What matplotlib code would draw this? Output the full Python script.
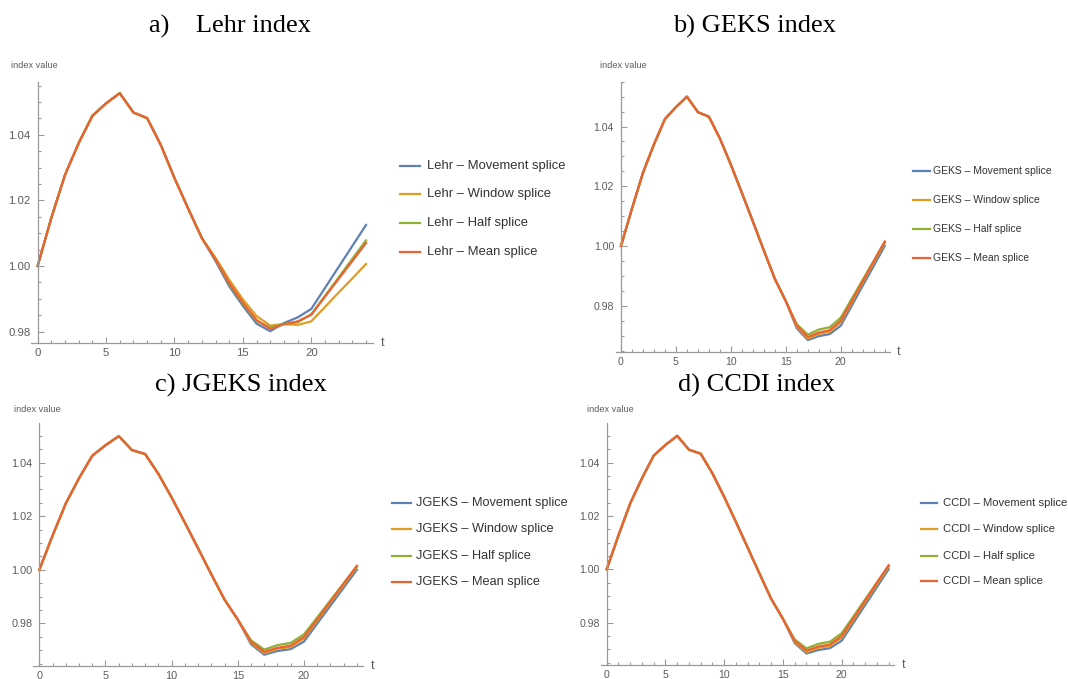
"""Four panels of spliced index series (Lehr, GEKS, JGEKS, CCDI)."""

import matplotlib

matplotlib.use("Agg")

import matplotlib.pyplot as plt
from matplotlib.lines import Line2D
from matplotlib.ticker import MultipleLocator

W, H = 1068, 679

T = list(range(25))
SPLICES = ["Movement splice", "Window splice", "Half splice", "Mean splice"]
COLORS = ["#5e81b5", "#e19c24", "#8fb032", "#eb6235"]

# common start of every Lehr series (t = 0..12)
LEHR_HEAD = [1.000, 1.0147, 1.0278, 1.0375, 1.0458, 1.0496, 1.0527, 1.0468,
             1.0451, 1.0369, 1.0268, 1.0175, 1.0085]
LEHR_MOVEMENT = LEHR_HEAD + [1.0015, 0.9938, 0.9878, 0.9824, 0.9801, 0.9826,
                             0.9843, 0.9869, 0.9933, 0.9997, 1.0061, 1.0125]
LEHR_WINDOW = LEHR_HEAD + [1.0025, 0.9958, 0.9898, 0.9847, 0.9818, 0.9823,
                           0.9820, 0.9831, 0.9875, 0.9919, 0.9962, 1.0006]
LEHR_HALF = LEHR_HEAD + [1.0020, 0.9945, 0.9885, 0.9832, 0.9812, 0.9824,
                         0.9828, 0.9853, 0.9909, 0.9965, 1.0022, 1.0078]
LEHR_MEAN = LEHR_HEAD + [1.0020, 0.9948, 0.9888, 0.9835, 0.9808, 0.9822,
                         0.9831, 0.9851, 0.9906, 0.9961, 1.0015, 1.0070]

GEKS_HEAD = [1.000, 1.0125, 1.0245, 1.0340, 1.0425, 1.0465, 1.0500, 1.0448,
             1.0433, 1.0360, 1.0272, 1.0178, 1.0082, 0.9985, 0.9890, 0.9815]
GEKS_MOVEMENT = GEKS_HEAD + [0.9724, 0.9685, 0.9698, 0.9705, 0.9733,
                             0.9800, 0.9867, 0.9933, 1.0000]
GEKS_WINDOW = GEKS_HEAD + [0.9729, 0.9690, 0.9706, 0.9713, 0.9745,
                           0.9811, 0.9878, 0.9944, 1.0010]
GEKS_HALF = GEKS_HEAD + [0.9738, 0.9703, 0.9720, 0.9728, 0.9760,
                         0.9823, 0.9887, 0.9950, 1.0013]
GEKS_MEAN = GEKS_HEAD + [0.9733, 0.9695, 0.9710, 0.9718, 0.9750,
                         0.9816, 0.9882, 0.9949, 1.0015]

JGEKS_HEAD = [1.000, 1.0128, 1.0248, 1.0342, 1.0426, 1.0465, 1.0499, 1.0447,
              1.0432, 1.0358, 1.0270, 1.0176, 1.0080, 0.9983, 0.9889, 0.9814]
JGEKS_MOVEMENT = JGEKS_HEAD + [0.9722, 0.9683, 0.9697, 0.9704, 0.9732,
                               0.9799, 0.9866, 0.9933, 1.0000]
JGEKS_WINDOW = JGEKS_HEAD + [0.9728, 0.9689, 0.9705, 0.9712, 0.9744,
                             0.9810, 0.9877, 0.9943, 1.0010]
JGEKS_HALF = JGEKS_HEAD + [0.9737, 0.9702, 0.9719, 0.9727, 0.9759,
                           0.9822, 0.9886, 0.9950, 1.0013]
JGEKS_MEAN = JGEKS_HEAD + [0.9732, 0.9694, 0.9709, 0.9717, 0.9749,
                           0.9815, 0.9881, 0.9948, 1.0015]

CCDI_HEAD = [1.000, 1.0127, 1.0247, 1.0341, 1.0426, 1.0466, 1.0500, 1.0448,
             1.0433, 1.0359, 1.0271, 1.0177, 1.0081, 0.9984, 0.9889, 0.9814]
CCDI_MOVEMENT = CCDI_HEAD + [0.9723, 0.9684, 0.9697, 0.9704, 0.9732,
                             0.9799, 0.9866, 0.9933, 1.0000]
CCDI_WINDOW = CCDI_HEAD + [0.9728, 0.9689, 0.9705, 0.9712, 0.9744,
                           0.9810, 0.9877, 0.9943, 1.0010]
CCDI_HALF = CCDI_HEAD + [0.9737, 0.9703, 0.9720, 0.9728, 0.9760,
                         0.9823, 0.9887, 0.9950, 1.0013]
CCDI_MEAN = CCDI_HEAD + [0.9732, 0.9695, 0.9710, 0.9718, 0.9750,
                         0.9816, 0.9882, 0.9949, 1.0015]

SANS = ["Liberation Sans", "DejaVu Sans"]
AXIS_GRAY = "#9a9a9a"
TEXT_GRAY = "#5c5c5c"

# pixel layout of each panel
PANELS = [
    dict(name="Lehr", title="a)    Lehr index", title_xy=(230, 26),
         series=[LEHR_MOVEMENT, LEHR_WINDOW, LEHR_HALF, LEHR_MEAN],
         box=(31.1, 81.7, 372.6, 343.0), ylim=(0.9765, 1.0562),
         ylabel_xy=(11, 65), t_xy=(381, 343),
         leg_line=(400, 420), leg_text_x=426.7, leg_ys=[166, 194.3, 223.3, 251.7],
         leg_size=9.4, tick_size=8.2),
    dict(name="GEKS", title="b) GEKS index", title_xy=(755, 26),
         series=[GEKS_MOVEMENT, GEKS_WINDOW, GEKS_HALF, GEKS_MEAN],
         box=(615.7, 81.7, 890.0, 351.7), ylim=(0.9646, 1.055),
         ylabel_xy=(600, 65), t_xy=(897, 351.7),
         leg_line=(913, 930), leg_text_x=933.3, leg_ys=[170.7, 200, 229.3, 258.3],
         leg_size=7.5, tick_size=7.6),
    dict(name="JGEKS", title="c) JGEKS index", title_xy=(241, 385),
         series=[JGEKS_MOVEMENT, JGEKS_WINDOW, JGEKS_HALF, JGEKS_MEAN],
         box=(33.0, 423.3, 363.2, 666.0), ylim=(0.9641, 1.0547),
         ylabel_xy=(14, 410), t_xy=(371, 666),
         leg_line=(391.7, 410.7), leg_text_x=416, leg_ys=[503.3, 529.3, 556, 581.7],
         leg_size=9.2, tick_size=7.8),
    dict(name="CCDI", title="d) CCDI index", title_xy=(756, 385),
         series=[CCDI_MOVEMENT, CCDI_WINDOW, CCDI_HALF, CCDI_MEAN],
         box=(601.1, 423.3, 894.3, 665.0), ylim=(0.9641, 1.0547),
         ylabel_xy=(587, 409), t_xy=(902, 665),
         leg_line=(920.7, 937.3), leg_text_x=942.7, leg_ys=[502.7, 529.3, 556, 580.7],
         leg_size=8.1, tick_size=7.6),
]


def fx(x: float) -> float:
    return x / W


def fy(y: float) -> float:
    return 1 - y / H


def draw_panel(fig, panel: dict) -> None:
    left, top, right, bottom = panel["box"]
    ax = fig.add_axes([fx(left), fy(bottom), (right - left) / W, (bottom - top) / H])

    for values, color in zip(panel["series"], COLORS):
        ax.plot(T, values, color=color, lw=1.6, solid_joinstyle="round")

    ax.set_xlim(-0.48, 24.48)
    ax.set_ylim(*panel["ylim"])
    for side in ("top", "right"):
        ax.spines[side].set_visible(False)
    ax.spines["left"].set_position(("data", 0))
    for side in ("left", "bottom"):
        ax.spines[side].set_color(AXIS_GRAY)
        ax.spines[side].set_linewidth(0.9)

    ax.xaxis.set_major_locator(MultipleLocator(5))
    ax.xaxis.set_minor_locator(MultipleLocator(1))
    ax.yaxis.set_minor_locator(MultipleLocator(0.005))
    ax.set_yticks([0.98, 1.00, 1.02, 1.04])
    ax.set_yticklabels(["0.98", "1.00", "1.02", "1.04"])
    ax.tick_params(which="both", direction="in", color=AXIS_GRAY, width=0.8,
                   labelcolor=TEXT_GRAY, labelsize=panel["tick_size"])
    ax.tick_params(which="major", length=4)
    ax.tick_params(which="minor", length=2.2)
    ax.tick_params(axis="x", pad=3.5)
    ax.tick_params(axis="y", pad=5)
    for label in ax.get_xticklabels() + ax.get_yticklabels():
        label.set_family(SANS)
    ax.patch.set_visible(False)

    fig.text(fx(panel["ylabel_xy"][0]), fy(panel["ylabel_xy"][1]), "index value",
             family=SANS, fontsize=6.6, color=TEXT_GRAY, va="center", ha="left")
    fig.text(fx(panel["t_xy"][0]), fy(panel["t_xy"][1]), "t",
             family=SANS, fontsize=9, color=TEXT_GRAY, va="center", ha="left")

    fig.text(fx(panel["title_xy"][0]), fy(panel["title_xy"][1]), panel["title"],
             family=["Liberation Serif", "DejaVu Serif"], fontsize=19,
             ha="center", va="center", color="black")

    x0, x1 = panel["leg_line"]
    for splice, color, y in zip(SPLICES, COLORS, panel["leg_ys"]):
        fig.add_artist(Line2D([fx(x0), fx(x1)], [fy(y), fy(y)], color=color, lw=1.6,
                              transform=fig.transFigure))
        fig.text(fx(panel["leg_text_x"]), fy(y), f"{panel['name']} \u2013 {splice}",
                 family=SANS, fontsize=panel["leg_size"], color="#333333",
                 va="center", ha="left")


def main() -> None:
    fig = plt.figure(figsize=(W / 100, H / 100), dpi=100, facecolor="white")
    for panel in PANELS:
        draw_panel(fig, panel)
    fig.savefig("out.png", dpi=100, facecolor="white")
    plt.close(fig)


if __name__ == "__main__":
    main()
